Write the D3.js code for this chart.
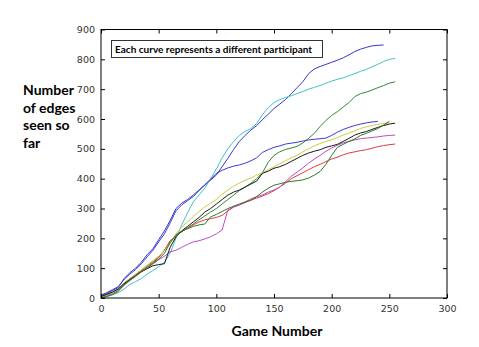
<!DOCTYPE html>
<html>
<head>
<meta charset="utf-8">
<script src="https://cdn.jsdelivr.net/npm/d3@7"></script>
<style>
  body { margin: 0; background: #fff; }
  svg { display: block; }
  .tick text { font-family: "DejaVu Sans", sans-serif; font-size: 9.5px; fill: #333; }
  .lbl { font-family: Lato, "Open Sans", sans-serif; font-weight: bold; font-size: 14px; fill: #000; }
</style>
</head>
<body>
<svg width="479" height="347"></svg>
<script>
// games sampled every 5 games; each series stops where its participant stopped
const games = d3.range(0, 256, 5);

const blueTop = [8,15,25,35,65,85,100,120,145,165,195,225,260,300,318,330,345,362,378,395,
  412,440,468,498,525,545,563,578,598,616,635,650,665,685,705,725,752,768,776,783,
  790,797,805,815,826,834,840,845,847,848];
const cyan = [0,5,10,18,30,45,55,65,80,92,105,120,150,200,245,285,322,345,368,400,
  432,470,500,525,545,558,568,585,615,638,655,665,672,678,685,692,700,706,712,720,
  727,733,738,745,752,760,766,775,783,793,800,803];
const greenTop = [5,12,20,30,50,65,78,92,108,122,138,160,190,212,222,235,248,262,275,288,
  300,315,330,345,360,372,385,400,420,455,478,490,498,503,508,520,535,552,575,595,
  612,625,640,655,675,685,690,697,705,712,720,725];
const blueLow = [10,18,28,38,62,80,95,115,138,160,188,215,252,292,312,326,340,360,380,398,
  418,428,436,442,446,452,460,470,488,497,505,510,516,519,522,526,530,532,534,536,
  545,556,565,572,578,583,587,590,592];
const yellow = [4,10,18,28,50,65,80,95,110,125,140,158,185,215,238,255,272,290,305,318,
  330,348,362,375,385,395,402,412,420,430,440,450,460,470,478,490,500,510,518,525,
  530,538,546,553,560,568,574,578,582,585,587];
const black = [5,12,20,30,48,62,75,88,98,108,112,115,170,205,225,240,255,270,288,300,
  315,330,345,355,362,372,382,392,418,425,435,440,448,458,468,478,486,492,497,505,
  510,515,525,535,546,553,558,565,572,578,583,586];
const greenLow = [0,5,12,22,45,60,75,88,100,115,130,150,185,210,225,232,240,245,248,272,
  280,290,300,308,315,322,328,340,355,368,378,383,388,391,393,396,402,412,424,448,
  478,505,515,525,533,545,552,560,568,580,592];
const magenta = [2,8,15,25,42,58,72,88,100,115,128,140,155,160,170,180,188,192,198,205,
  215,228,295,305,312,322,332,340,345,355,362,372,390,408,422,436,452,466,478,492,
  503,512,520,525,530,534,536,538,540,543,545,546];
const red = [3,10,18,28,48,62,76,90,104,118,135,160,192,210,222,235,245,255,262,266,
  270,277,292,305,312,320,328,335,342,350,360,372,385,400,410,420,430,440,448,457,
  466,472,480,486,490,494,497,502,507,511,514,516];

// plotting order follows the default colour cycle
const series = [blueTop, greenTop, red, cyan, magenta, yellow, black, blueLow, greenLow];
const colors = ["#3535d0", "#2e8a2e", "#e23a3a", "#3cc4c8", "#c24ac2", "#cccc45", "#1a1a1a", "#3a3ad4", "#2a7a2a"];

const xTicks = [0, 50, 100, 150, 200, 250, 300];
const yTicks = [0, 100, 200, 300, 400, 500, 600, 700, 800, 900];

const svg = d3.select("svg");
const plotL = 101, plotR = 447, plotT = 29.5, plotB = 298;

const x = d3.scaleLinear().domain([0, 300]).range([plotL, plotR]);
const y = d3.scaleLinear().domain([0, 900]).range([plotB, plotT]);

const line = d3.line()
  .x((d, i) => x(games[i]))
  .y(d => y(d));

svg.append("g")
  .selectAll("path")
  .data(series)
  .enter().append("path")
  .attr("d", line)
  .attr("fill", "none")
  .attr("stroke", (d, i) => colors[i])
  .attr("stroke-width", 1)
  .attr("stroke-linejoin", "round");

// axes with inward ticks on every side
svg.append("g")
  .attr("transform", `translate(0,${plotB})`)
  .call(d3.axisBottom(x).tickValues(xTicks).tickSizeInner(-4).tickSizeOuter(0).tickPadding(7))
  .call(g => g.select(".domain").remove());
svg.append("g")
  .attr("transform", `translate(${plotL},0)`)
  .call(d3.axisLeft(y).tickValues(yTicks).tickSizeInner(-4).tickSizeOuter(0).tickPadding(6))
  .call(g => g.select(".domain").remove());
svg.append("g")
  .attr("transform", `translate(0,${plotT})`)
  .call(d3.axisTop(x).tickValues(xTicks).tickSizeInner(-4).tickSizeOuter(0).tickFormat(""))
  .call(g => g.select(".domain").remove());
svg.append("g")
  .attr("transform", `translate(${plotR},0)`)
  .call(d3.axisRight(y).tickValues(yTicks).tickSizeInner(-4).tickSizeOuter(0).tickFormat(""))
  .call(g => g.select(".domain").remove());

svg.selectAll(".tick line").attr("stroke", "#000");

svg.append("rect")
  .attr("x", plotL).attr("y", plotT)
  .attr("width", plotR - plotL).attr("height", plotB - plotT)
  .attr("fill", "none").attr("stroke", "#000").attr("stroke-width", 1);

// annotation box
svg.append("rect")
  .attr("x", 111.5).attr("y", 40.5)
  .attr("width", 211).attr("height", 17)
  .attr("fill", "#fff").attr("stroke", "#333").attr("stroke-width", 1);
svg.append("text")
  .attr("x", 115).attr("y", 52.5)
  .attr("textLength", 197).attr("lengthAdjust", "spacingAndGlyphs")
  .style("font-family", "Lato, sans-serif").style("font-weight", "bold").style("font-size", "10px")
  .text("Each curve represents a different participant");

// axis labels
const yLabel = ["Number", "of edges", "seen so", "far"];
svg.append("text")
  .attr("class", "lbl")
  .selectAll("tspan")
  .data(yLabel)
  .enter().append("tspan")
  .attr("x", 23)
  .attr("y", (d, i) => 95 + i * 17.7)
  .text(d => d);

svg.append("text")
  .attr("class", "lbl")
  .attr("x", 277).attr("y", 336)
  .style("text-anchor", "middle")
  .text("Game Number");
</script>
</body>
</html>
